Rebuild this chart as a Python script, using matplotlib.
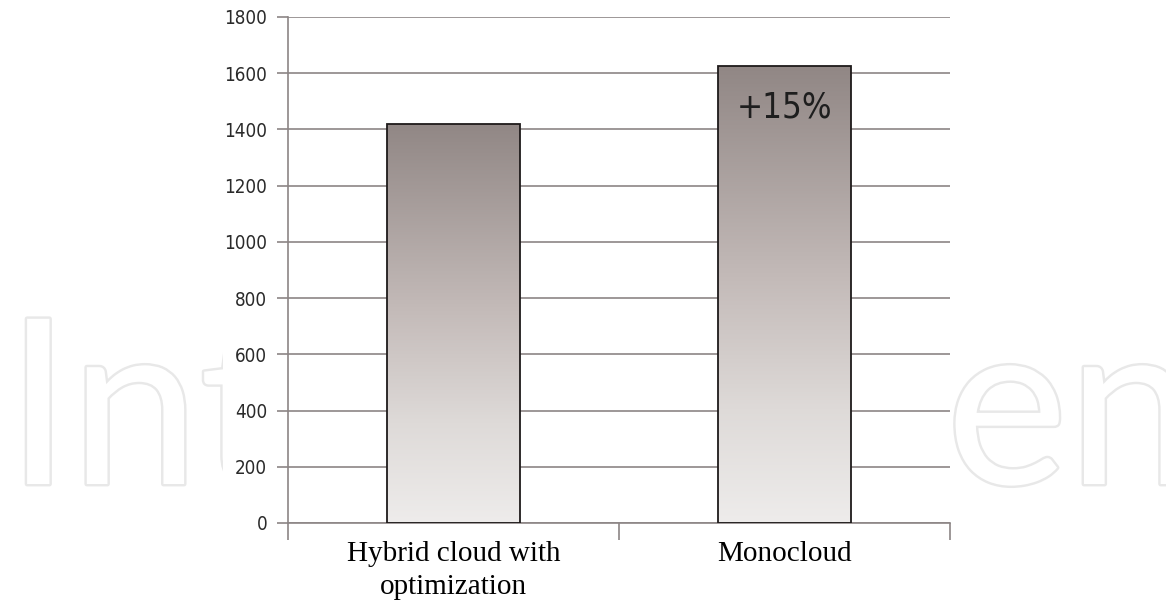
import matplotlib
matplotlib.use("Agg")
import matplotlib.pyplot as plt
import numpy as np
from matplotlib.patches import Rectangle
import matplotlib.patheffects as pe

# data
categories = ["Hybrid cloud with\noptimization", "Monocloud"]
values = [1420, 1625]
yticks = [0, 200, 400, 600, 800, 1000, 1200, 1400, 1600, 1800]
note = "+15%"

axis_col = "#8c8585"
W, H = 1166, 602
sans = dict(family="DejaVu Sans", stretch="condensed")

fig = plt.figure(figsize=(W / 100, H / 100), dpi=100)

# faint outlined watermark, only its ends show past the chart area
wm = dict(fontsize=166, family="Lato", color="white", ha="left", va="baseline", zorder=-2,
          path_effects=[pe.withStroke(linewidth=3.5, foreground="#e8e8e8")])
fig.text(6 / W, 1 - 484 / H, "Int", **wm)
fig.text(946 / W, 1 - 484 / H, "en", **wm)
fig.patches.append(Rectangle((223 / W, 0), (950 - 223) / W, 1, transform=fig.transFigure,
                             facecolor="white", edgecolor="none", zorder=-1))

ax = fig.add_axes([288 / W, 1 - 523 / H, (950 - 288) / W, (523 - 17) / H])
ax.set_facecolor("none")

x = np.arange(len(values))
width = 0.40
grad = np.linspace(0, 1, 256).reshape(-1, 1)
cmap = matplotlib.colors.LinearSegmentedColormap.from_list(
    "bar", [(0, "#eeeceb"), (0.25, "#dedad8"), (0.53, "#c4bbb9"), (1, "#918785")])
for xi, v in zip(x, values):
    im = ax.imshow(grad, cmap=cmap, aspect="auto", origin="lower",
                   extent=[xi - width / 2, xi + width / 2, 0, v], zorder=2)
    r = Rectangle((xi - width / 2, 0), width, v, facecolor="none",
                  edgecolor="#1e1a1a", linewidth=1.3, zorder=3)
    ax.add_patch(r)
    im.set_clip_path(r)

ax.text(x[1], 1478, note, ha="center", va="center", fontsize=25, color="#1e1e1e", zorder=4, **sans)

ax.set_xlim(-0.5, 1.5)
ax.set_ylim(0, 1800)
ax.set_yticks(yticks)
ax.set_yticklabels([str(t) for t in yticks], fontsize=13.5, color="#2a2a2a",
                   fontfamily="DejaVu Sans", fontstretch="condensed")
ax.yaxis.grid(True, color=axis_col, linewidth=1.2, zorder=1)
ax.set_axisbelow(True)
ax.tick_params(axis="y", length=8, width=1.2, color=axis_col, pad=7)

ax.set_xticks(x)
ax.set_xticklabels(categories, fontfamily="Liberation Serif", fontsize=21, color="black",
                   linespacing=1.37)
ax.set_xticks([-0.5, 0.5, 1.5], minor=True)
ax.tick_params(axis="x", which="major", length=0, pad=13)
ax.tick_params(axis="x", which="minor", length=12, width=1.2, color=axis_col)

for s in ["top", "right"]:
    ax.spines[s].set_visible(False)
for s in ["left", "bottom"]:
    ax.spines[s].set_color(axis_col)
    ax.spines[s].set_linewidth(1.2)

fig.savefig("out.png", dpi=100)
